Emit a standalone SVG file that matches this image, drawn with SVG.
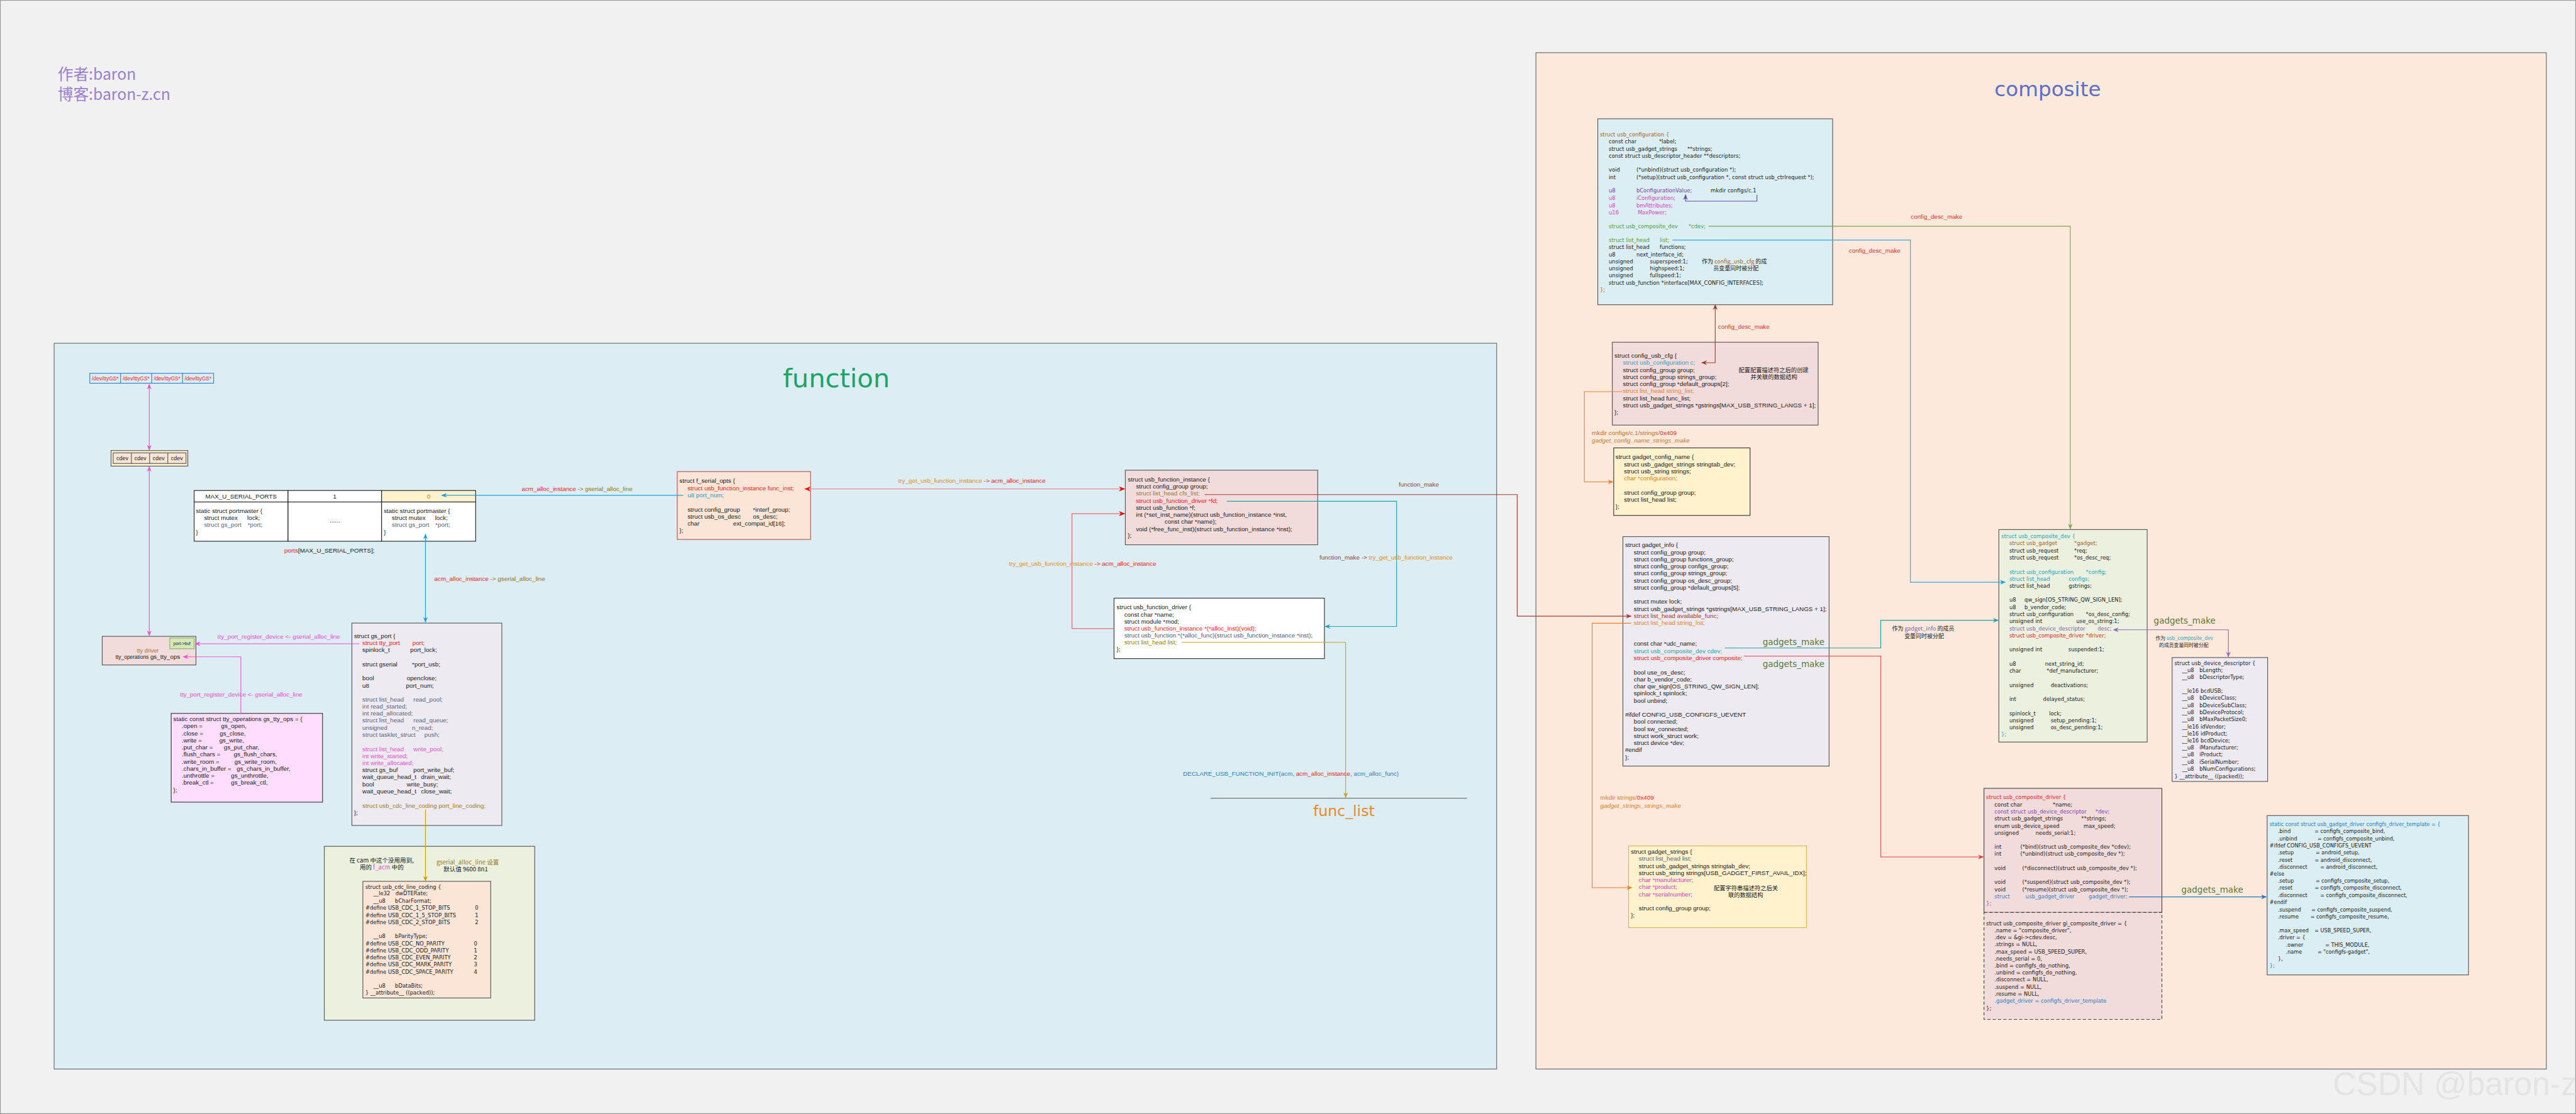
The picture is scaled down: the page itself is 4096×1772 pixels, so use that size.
<svg xmlns="http://www.w3.org/2000/svg" width="4096" height="1772" viewBox="0 0 4096 1772">
<defs>
<style>
.n{font-family:"Liberation Sans",Arial,sans-serif;font-size:17.5px;fill:#1a1a1a}
.w{font-family:"DejaVu Sans",sans-serif;font-size:15px;fill:#1a1a1a}
.c{font-family:"Noto Sans CJK SC","Noto Sans",sans-serif;fill:#1a1a1a}
.red{fill:#ff2020}.pk{fill:#f24fd4}.or{fill:#ea8a26}.ol{fill:#8f7420}.bl{fill:#1c98d8}.sl{fill:#5a6585}
.br{fill:#a5622c}.gr{fill:#4fa032}.pu{fill:#7040b0}.mg{fill:#e23fc4}.cy{fill:#22a4c6}.db{fill:#2a7dd0}
.dr{fill:#a33a2f}.vi{fill:#8464b8}.gm{fill:#56773a}.tl{fill:#1fa3b0}.fb{fill:#8b4a3a}
.box{stroke:#555;stroke-width:2}
.ln{fill:none;stroke-width:2}
</style>
<marker id="aPk" viewBox="0 0 10 10" refX="9" refY="5" markerWidth="16" markerHeight="16" markerUnits="userSpaceOnUse" orient="auto-start-reverse"><path d="M0,1L10,5L0,9L3,5z" fill="#f24fd4"/></marker>
<marker id="aBl" viewBox="0 0 10 10" refX="9" refY="5" markerWidth="16" markerHeight="16" markerUnits="userSpaceOnUse" orient="auto-start-reverse"><path d="M0,1L10,5L0,9L3,5z" fill="#1ba1e2"/></marker>
<marker id="aRd" viewBox="0 0 10 10" refX="9" refY="5" markerWidth="18" markerHeight="18" markerUnits="userSpaceOnUse" orient="auto-start-reverse"><path d="M0,1L10,5L0,9L3,5z" fill="#ff0000"/></marker>
<marker id="aTl" viewBox="0 0 10 10" refX="9" refY="5" markerWidth="16" markerHeight="16" markerUnits="userSpaceOnUse" orient="auto-start-reverse"><path d="M0,1L10,5L0,9L3,5z" fill="#1fa3b0"/></marker>
<marker id="aGd" viewBox="0 0 10 10" refX="9" refY="5" markerWidth="16" markerHeight="16" markerUnits="userSpaceOnUse" orient="auto-start-reverse"><path d="M0,1L10,5L0,9L3,5z" fill="#c9a000"/></marker>
<marker id="aDr" viewBox="0 0 10 10" refX="9" refY="5" markerWidth="16" markerHeight="16" markerUnits="userSpaceOnUse" orient="auto-start-reverse"><path d="M0,1L10,5L0,9L3,5z" fill="#a33a2f"/></marker>
<marker id="aOr" viewBox="0 0 10 10" refX="9" refY="5" markerWidth="16" markerHeight="16" markerUnits="userSpaceOnUse" orient="auto-start-reverse"><path d="M0,1L10,5L0,9L3,5z" fill="#f07d2a"/></marker>
<marker id="aGr" viewBox="0 0 10 10" refX="9" refY="5" markerWidth="16" markerHeight="16" markerUnits="userSpaceOnUse" orient="auto-start-reverse"><path d="M0,1L10,5L0,9L3,5z" fill="#7da453"/></marker>
<marker id="aPu" viewBox="0 0 10 10" refX="9" refY="5" markerWidth="16" markerHeight="16" markerUnits="userSpaceOnUse" orient="auto-start-reverse"><path d="M0,1L10,5L0,9L3,5z" fill="#6b45a8"/></marker>
<marker id="aVi" viewBox="0 0 10 10" refX="9" refY="5" markerWidth="16" markerHeight="16" markerUnits="userSpaceOnUse" orient="auto-start-reverse"><path d="M0,1L10,5L0,9L3,5z" fill="#8a6bbe"/></marker>
<marker id="aDb" viewBox="0 0 10 10" refX="9" refY="5" markerWidth="16" markerHeight="16" markerUnits="userSpaceOnUse" orient="auto-start-reverse"><path d="M0,1L10,5L0,9L3,5z" fill="#2577c8"/></marker>
<marker id="aRl" viewBox="0 0 10 10" refX="9" refY="5" markerWidth="16" markerHeight="16" markerUnits="userSpaceOnUse" orient="auto-start-reverse"><path d="M0,1L10,5L0,9L3,5z" fill="#f03a3a"/></marker>
</defs>
<g transform="scale(0.56233)">
<rect x="0" y="0" width="7284" height="3151" fill="#f1f1f1" stroke="#9a9a9a" stroke-width="4"/>
<g id="author">
<text x="163" y="226" class="c" style="font-size:44px;fill:#9a7fd1">作者:baron</text>
<text x="163" y="282" class="c" style="font-size:44px;fill:#9a7fd1">博客:baron-z.cn</text>
</g>
<g id="frame-function">
<rect x="153" y="971" width="4079" height="2053" fill="#dcedf4" stroke="#666" stroke-width="2"/>
<text x="2365" y="1096" text-anchor="middle" style="font-family:'DejaVu Sans',sans-serif;font-size:74px;fill:#21a366">function</text>
</g>
<g id="frame-composite">
<rect x="4343" y="149" width="2857" height="2875" fill="#fde9db" stroke="#666" stroke-width="2"/>
<text x="5790" y="272" text-anchor="middle" style="font-family:'DejaVu Sans',sans-serif;font-size:58px;fill:#5c6fc8">composite</text>
</g>

<g id="ttys">
<rect x="254" y="1056" width="350" height="28" fill="none" stroke="#2d7fd0" stroke-width="2"/>
<path d="M341,1056V1084M429,1056V1084M516,1056V1084" stroke="#2d7fd0" stroke-width="2"/>
<g class="n red" style="font-size:15px" text-anchor="middle">
<text x="297.5" y="1076">/dev/ttyGS*</text><text x="385" y="1076">/dev/ttyGS*</text><text x="472.5" y="1076">/dev/ttyGS*</text><text x="560" y="1076">/dev/ttyGS*</text>
</g>
</g>
<g id="cdevs">
<rect x="314" y="1274.5" width="217" height="44" fill="#fff2cc" class="box"/>
<rect x="320" y="1281" width="206" height="30" fill="#fbe5d6" class="box"/>
<path d="M371.5,1281V1311M423,1281V1311M474.5,1281V1311" stroke="#555" stroke-width="2"/>
<g class="n" style="font-size:16px" text-anchor="middle">
<text x="345.7" y="1302">cdev</text><text x="397.2" y="1302">cdev</text><text x="448.7" y="1302">cdev</text><text x="500.2" y="1302">cdev</text>
</g>
</g>
<g id="ports">
<rect x="549" y="1387.5" width="265.5" height="32.5" fill="#fff" stroke="#222" stroke-width="2"/>
<rect x="814.5" y="1387.5" width="264.5" height="32.5" fill="#fff" stroke="#222" stroke-width="2"/>
<rect x="1079" y="1387.5" width="266" height="32.5" fill="#fff2cc" stroke="#222" stroke-width="2"/>
<rect x="549" y="1420" width="265.5" height="111" fill="#fff" stroke="#222" stroke-width="2"/>
<rect x="814.5" y="1420" width="264.5" height="111" fill="#fff" stroke="#222" stroke-width="2"/>
<rect x="1079" y="1420" width="266" height="111" fill="#fff" stroke="#222" stroke-width="2"/>
<text x="681.7" y="1410" text-anchor="middle" class="n">MAX_U_SERIAL_PORTS</text>
<text x="946.7" y="1410" text-anchor="middle" class="n">1</text>
<text x="1212" y="1410" text-anchor="middle" class="n" style="fill:#b8860b">0</text>
<text x="554" y="1451" class="n">static struct portmaster {</text>
<text x="577" y="1471" class="n">struct mutex</text><text x="699" y="1471" class="n">lock;</text>
<text x="577" y="1491" class="n sl">struct gs_port</text><text x="700" y="1491" class="n sl">*port;</text>
<text x="554" y="1511" class="n">}</text>
<text x="946.7" y="1478" text-anchor="middle" class="n">......</text>
<text x="1085" y="1451" class="n">static struct portmaster {</text>
<text x="1108" y="1471" class="n">struct mutex</text><text x="1230" y="1471" class="n">lock;</text>
<text x="1108" y="1491" class="n sl">struct gs_port</text><text x="1231" y="1491" class="n sl">*port;</text>
<text x="1085" y="1511" class="n">}</text>
<text x="804" y="1564" class="n"><tspan class="red">ports</tspan>[MAX_U_SERIAL_PORTS];</text>
</g>
<g id="tty_driver">
<rect x="289" y="1800" width="265" height="81" fill="#f2dcdb" class="box"/>
<rect x="480" y="1804.6" width="69" height="30.4" fill="#d5e8b4" stroke="#82b366" stroke-width="2"/>
<text x="514.5" y="1824" text-anchor="middle" class="n" style="font-size:12px">port-&gt;buf</text>
<text x="418" y="1846" text-anchor="middle" class="n" style="font-size:16px;fill:#b07030">tty driver</text>
<text x="418" y="1864" text-anchor="middle" class="n" style="font-size:15px">tty_operations <tspan style="font-size:17.5px">gs_tty_ops</tspan></text>
</g>
<g id="gs_tty_ops">
<rect x="484" y="2018" width="428" height="251" fill="#ffddff" stroke="#333" stroke-width="2"/>
<text x="490" y="2040" class="n">static const struct tty_operations gs_tty_ops = {</text>
<text x="514" y="2060" class="n">.open =</text><text x="625" y="2060" class="n">gs_open,</text>
<text x="514" y="2080" class="n">.close =</text><text x="621" y="2080" class="n">gs_close,</text>
<text x="514" y="2100" class="n">.write =</text><text x="620" y="2100" class="n">gs_write,</text>
<text x="514" y="2120" class="n">.put_char =</text><text x="633" y="2120" class="n">gs_put_char,</text>
<text x="514" y="2140" class="n">.flush_chars =</text><text x="661" y="2140" class="n">gs_flush_chars,</text>
<text x="514" y="2160" class="n">.write_room =</text><text x="663" y="2160" class="n">gs_write_room,</text>
<text x="514" y="2180" class="n">.chars_in_buffer =</text><text x="669" y="2180" class="n">gs_chars_in_buffer,</text>
<text x="514" y="2200" class="n">.unthrottle =</text><text x="653" y="2200" class="n">gs_unthrottle,</text>
<text x="514" y="2220" class="n">.break_ctl =</text><text x="653" y="2220" class="n">gs_break_ctl,</text>
<text x="490" y="2240" class="n">};</text>
</g>
<g id="gs_port">
<rect x="995" y="1762.5" width="424" height="572.5" fill="#eeeaf2" class="box"/>
<text x="1001" y="1805" class="n">struct gs_port {</text>
<text x="1024.5" y="1825" class="n red">struct tty_port</text><text x="1166" y="1825" class="n red">port;</text>
<text x="1024.5" y="1845" class="n">spinlock_t</text><text x="1160" y="1845" class="n">port_lock;</text>
<text x="1024.5" y="1885" class="n">struct gserial</text><text x="1165" y="1885" class="n">*port_usb;</text>
<text x="1024.5" y="1925" class="n">bool</text><text x="1150" y="1925" class="n">openclose;</text>
<text x="1024.5" y="1945" class="n">u8</text><text x="1148" y="1945" class="n">port_num;</text>
<text x="1024.5" y="1984.5" class="n sl">struct list_head</text><text x="1169" y="1984.5" class="n sl">read_pool;</text>
<text x="1024.5" y="2004.5" class="n sl">int read_started;</text>
<text x="1024.5" y="2024" class="n sl">int read_allocated;</text>
<text x="1024.5" y="2044" class="n sl">struct list_head</text><text x="1169" y="2044" class="n sl">read_queue;</text>
<text x="1024.5" y="2065" class="n sl">unsigned</text><text x="1165" y="2065" class="n sl">n_read;</text>
<text x="1024.5" y="2085" class="n sl">struct tasklet_struct</text><text x="1200" y="2085" class="n sl">push;</text>
<text x="1024.5" y="2125" class="n pk">struct list_head</text><text x="1169" y="2125" class="n pk">write_pool;</text>
<text x="1024.5" y="2144.5" class="n pk">int write_started;</text>
<text x="1024.5" y="2164.5" class="n pk">int write_allocated;</text>
<text x="1024.5" y="2184.5" class="n">struct gs_buf</text><text x="1169" y="2184.5" class="n">port_write_buf;</text>
<text x="1024.5" y="2204" class="n">wait_queue_head_t</text><text x="1190.6" y="2204" class="n">drain_wait;</text>
<text x="1024.5" y="2224" class="n">bool</text><text x="1150" y="2224" class="n">write_busy;</text>
<text x="1024.5" y="2245" class="n">wait_queue_head_t</text><text x="1190.6" y="2245" class="n">close_wait;</text>
<text x="1024.5" y="2284.6" class="n" style="fill:#a07a2a">struct usb_cdc_line_coding port_line_coding;</text>
<text x="1001" y="2305" class="n">};</text>
</g>
<g id="line_coding_group">
<rect x="917" y="2394" width="595" height="492" fill="#ebf1de" class="box"/>
<text x="988" y="2440" class="c" style="font-size:17px">在 cam 中这个没用用到,</text>
<text x="1017" y="2460" class="c" style="font-size:17px">用的 <tspan class="pk">f_acm</tspan> 中的</text>
<text x="1234" y="2445" class="c" style="font-size:17px;fill:#9c7a1f">gserial_alloc_line 设置</text>
<text x="1254" y="2464" class="c" style="font-size:17px">默认值 9600 8n1</text>
</g>
<g id="usb_cdc_line_coding">
<rect x="1026" y="2493" width="361.5" height="330" fill="#fbe5d6" class="box"/>
<text x="1033" y="2514" class="w">struct usb_cdc_line_coding {</text>
<text x="1056" y="2533" class="w">__le32</text><text x="1118" y="2533" class="w">dwDTERate;</text>
<text x="1056" y="2554" class="w">__u8</text><text x="1117" y="2554" class="w">bCharFormat;</text>
<text x="1033" y="2574" class="w">#define USB_CDC_1_STOP_BITS</text><text x="1343" y="2574" class="w">0</text>
<text x="1033" y="2594" class="w">#define USB_CDC_1_5_STOP_BITS</text><text x="1343" y="2594" class="w">1</text>
<text x="1033" y="2614" class="w">#define USB_CDC_2_STOP_BITS</text><text x="1343" y="2614" class="w">2</text>
<text x="1056" y="2654" class="w">__u8</text><text x="1117" y="2654" class="w">bParityType;</text>
<text x="1033" y="2674" class="w">#define USB_CDC_NO_PARITY</text><text x="1340" y="2674" class="w">0</text>
<text x="1033" y="2694" class="w">#define USB_CDC_ODD_PARITY</text><text x="1340" y="2694" class="w">1</text>
<text x="1033" y="2714" class="w">#define USB_CDC_EVEN_PARITY</text><text x="1340" y="2714" class="w">2</text>
<text x="1033" y="2734" class="w">#define USB_CDC_MARK_PARITY</text><text x="1340" y="2734" class="w">3</text>
<text x="1033" y="2754" class="w">#define USB_CDC_SPACE_PARITY</text><text x="1340" y="2754" class="w">4</text>
<text x="1056" y="2794" class="w">__u8</text><text x="1117" y="2794" class="w">bDataBits;</text>
<text x="1033" y="2814" class="w">} __attribute__ ((packed));</text>
</g>
<g id="f_serial_opts">
<rect x="1915" y="1334" width="377" height="192" fill="#fbe5d6" stroke="#b85450" stroke-width="2"/>
<text x="1921" y="1366" class="n">struct f_serial_opts {</text>
<text x="1944" y="1387" class="n red">struct usb_function_instance func_inst;</text>
<text x="1944" y="1407" class="n bl">u8 port_num;</text>
<text x="1944" y="1447" class="n">struct config_group</text><text x="2129" y="1447" class="n">*interf_group;</text>
<text x="1944" y="1467" class="n">struct usb_os_desc</text><text x="2129" y="1467" class="n">os_desc;</text>
<text x="1944" y="1486" class="n">char</text><text x="2073" y="1486" class="n">ext_compat_id[16];</text>
<text x="1921" y="1506" class="n">};</text>
</g>
<g id="usb_function_instance">
<rect x="3182" y="1330" width="544" height="211" fill="#f2dcdb" class="box"/>
<text x="3189" y="1362" class="n">struct usb_function_instance {</text>
<text x="3212" y="1382" class="n">struct config_group group;</text>
<text x="3212" y="1402" class="n" style="fill:#9b7a3a">struct list_head cfs_list;</text>
<text x="3212" y="1422" class="n red">struct usb_function_driver *fd;</text>
<text x="3212" y="1442" class="n">struct usb_function *f;</text>
<text x="3212" y="1462" class="n">int (*set_inst_name)(struct usb_function_instance *inst,</text>
<text x="3293" y="1482" class="n">const char *name);</text>
<text x="3212" y="1502" class="n">void (*free_func_inst)(struct usb_function_instance *inst);</text>
<text x="3189" y="1521" class="n">};</text>
</g>
<g id="usb_function_driver">
<rect x="3150" y="1692" width="595" height="171" fill="#ffffff" stroke="#333" stroke-width="2"/>
<text x="3157" y="1724" class="n">struct usb_function_driver {</text>
<text x="3179" y="1744" class="n">const char *name;</text>
<text x="3179" y="1763.5" class="n">struct module *mod;</text>
<text x="3179" y="1784" class="n red">struct usb_function_instance *(*alloc_inst)(void);</text>
<text x="3179" y="1803" class="n" style="fill:#4d5a8a">struct usb_function *(*alloc_func)(struct usb_function_instance *inst);</text>
<text x="3179" y="1823" class="n" style="fill:#9a8000">struct list_head list;</text>
<text x="3157" y="1843" class="n">};</text>
</g>
<g id="func_list">
<path d="M3423,2258H4148" stroke="#555" stroke-width="2"/>
<text x="3800" y="2308" text-anchor="middle" style="font-family:'DejaVu Sans',sans-serif;font-size:42px;fill:#ea8a26">func_list</text>
</g>

<g id="usb_configuration">
<rect x="4518" y="336" width="664" height="526" fill="#dbeef4" class="box"/>
<text x="4524" y="386" class="w br">struct usb_configuration {</text>
<text x="4549" y="406" class="w">const char</text><text x="4691" y="406" class="w">*label;</text>
<text x="4549" y="426" class="w">struct usb_gadget_strings</text><text x="4771" y="426" class="w">**strings;</text>
<text x="4549" y="446" class="w">const struct usb_descriptor_header **descriptors;</text>
<text x="4549" y="486" class="w">void</text><text x="4627" y="486" class="w">(*unbind)(struct usb_configuration *);</text>
<text x="4549" y="506" class="w">int</text><text x="4627" y="506" class="w">(*setup)(struct usb_configuration *, const struct usb_ctrlrequest *);</text>
<text x="4549" y="545" class="w pu">u8</text><text x="4627" y="545" class="w pu">bConfigurationValue;</text><text x="4837" y="545" class="w">mkdir configs/c.1</text>
<text x="4549" y="565" class="w mg">u8</text><text x="4627" y="565" class="w mg">iConfiguration;</text>
<text x="4549" y="586" class="w mg">u8</text><text x="4627" y="586" class="w mg">bmAttributes;</text>
<text x="4549" y="606" class="w mg">u16</text><text x="4631" y="606" class="w mg">MaxPower;</text>
<text x="4549" y="645" class="w gr">struct usb_composite_dev</text><text x="4774.5" y="645" class="w gr">*cdev;</text>
<text x="4549" y="685" class="w gr">struct list_head</text><text x="4693" y="685" class="w gr">list;</text>
<text x="4549" y="705" class="w">struct list_head</text><text x="4693" y="705" class="w">functions;</text>
<text x="4549" y="725" class="w">u8</text><text x="4627" y="725" class="w">next_interface_id;</text>
<text x="4549" y="745" class="w">unsigned</text><text x="4665.5" y="745" class="w">superspeed:1;</text>
<text x="4812" y="745" class="c" style="font-size:16px">作为 <tspan class="br">config_usb_cfg</tspan> 的成</text>
<text x="4549" y="765" class="w">unsigned</text><text x="4665.5" y="765" class="w">highspeed:1;</text>
<text x="4844.6" y="765" class="c" style="font-size:16px">员变量同时被分配</text>
<text x="4549" y="785" class="w">unsigned</text><text x="4665.5" y="785" class="w">fullspeed:1;</text>
<text x="4549" y="805" class="w">struct usb_function *interface[MAX_CONFIG_INTERFACES];</text>
<text x="4524" y="825" class="w br">};</text>
</g>
<g id="config_usb_cfg">
<rect x="4559" y="968" width="582" height="234.5" fill="#f2dcdb" class="box"/>
<text x="4565" y="1012" class="n">struct config_usb_cfg {</text>
<text x="4589" y="1032" class="n" style="fill:#3a9abf">struct usb_configuration c;</text>
<text x="4589" y="1052" class="n">struct config_group group;</text>
<text x="4589" y="1072" class="n">struct config_group strings_group;</text>
<text x="4589" y="1092" class="n">struct config_group *default_groups[2];</text>
<text x="4589" y="1112" class="n" style="fill:#f08030">struct list_head string_list;</text>
<text x="4589" y="1132" class="n">struct list_head func_list;</text>
<text x="4589" y="1152" class="n">struct usb_gadget_strings *gstrings[MAX_USB_STRING_LANGS + 1];</text>
<text x="4565" y="1172" class="n">};</text>
<text x="4916" y="1052" class="c" style="font-size:16.5px">配置配置描述符之后的创建</text>
<text x="4950" y="1072" class="c" style="font-size:16.5px">并关联的数据结构</text>
</g>
<g id="gadget_config_name">
<rect x="4563" y="1267" width="385.5" height="191" fill="#fff2cc" stroke="#333" stroke-width="2"/>
<text x="4568" y="1299" class="n">struct gadget_config_name {</text>
<text x="4592" y="1319" class="n">struct usb_gadget_strings stringtab_dev;</text>
<text x="4592" y="1339" class="n">struct usb_string strings;</text>
<text x="4592" y="1359" class="n" style="fill:#e67e22">char *configuration;</text>
<text x="4592" y="1399" class="n">struct config_group group;</text>
<text x="4592" y="1419" class="n">struct list_head list;</text>
<text x="4568" y="1439" class="n">};</text>
</g>
<g id="gadget_info">
<rect x="4589" y="1518" width="583" height="649" fill="#eeeaf2" class="box"/>
<text x="4595" y="1547.5" class="n">struct gadget_info {</text>
<text x="4619.6" y="1567.6" class="n">struct config_group group;</text>
<text x="4619.6" y="1587.7" class="n">struct config_group functions_group;</text>
<text x="4619.6" y="1608" class="n">struct config_group configs_group;</text>
<text x="4619.6" y="1628" class="n">struct config_group strings_group;</text>
<text x="4619.6" y="1648" class="n">struct config_group os_desc_group;</text>
<text x="4619.6" y="1667.6" class="n">struct config_group *default_groups[5];</text>
<text x="4619.6" y="1708" class="n">struct mutex lock;</text>
<text x="4619.6" y="1728" class="n">struct usb_gadget_strings *gstrings[MAX_USB_STRING_LANGS + 1];</text>
<text x="4619.6" y="1747.5" class="n dr">struct list_head available_func;</text>
<text x="4619.6" y="1767.6" class="n" style="fill:#f08030">struct list_head string_list;</text>
<text x="4619.6" y="1827" class="n">const char *udc_name;</text>
<text x="4619.6" y="1847.5" class="n tl">struct usb_composite_dev cdev;</text>
<text x="4619.6" y="1867.6" class="n red">struct usb_composite_driver composite;</text>
<text x="4619.6" y="1908" class="n">bool use_os_desc;</text>
<text x="4619.6" y="1928" class="n">char b_vendor_code;</text>
<text x="4619.6" y="1947.5" class="n">char qw_sign[OS_STRING_QW_SIGN_LEN];</text>
<text x="4619.6" y="1967.6" class="n">spinlock_t spinlock;</text>
<text x="4619.6" y="1987.7" class="n">bool unbind;</text>
<text x="4595" y="2027" class="n">#ifdef CONFIG_USB_CONFIGFS_UEVENT</text>
<text x="4619.6" y="2047.5" class="n">bool connected;</text>
<text x="4619.6" y="2067.6" class="n">bool sw_connected;</text>
<text x="4619.6" y="2087.7" class="n">struct work_struct work;</text>
<text x="4619.6" y="2107.8" class="n">struct device *dev;</text>
<text x="4595" y="2127" class="n">#endif</text>
<text x="4595" y="2147.5" class="n">};</text>
</g>
<g id="gadget_strings">
<rect x="4605" y="2393" width="503" height="231" fill="#fff2cc" stroke="#d6b656" stroke-width="2"/>
<text x="4611.6" y="2415" class="n">struct gadget_strings {</text>
<text x="4634" y="2435" class="n sl">struct list_head list;</text>
<text x="4634" y="2455" class="n">struct usb_gadget_strings stringtab_dev;</text>
<text x="4634" y="2475" class="n">struct usb_string strings[USB_GADGET_FIRST_AVAIL_IDX];</text>
<text x="4634" y="2495" class="n mg">char *manufacturer;</text>
<text x="4634" y="2515" class="n mg">char *product;</text>
<text x="4634" y="2535" class="n mg">char *serialnumber;</text>
<text x="4634" y="2575" class="n">struct config_group group;</text>
<text x="4611.6" y="2595" class="n">};</text>
<text x="4846" y="2518" class="c" style="font-size:16.5px">配置字符串描述符之后关</text>
<text x="4886.6" y="2538" class="c" style="font-size:16.5px">联的数据结构</text>
</g>
<g id="usb_composite_dev">
<rect x="5652" y="1498" width="419.4" height="601" fill="#ebf1de" class="box"/>
<text x="5658.7" y="1522.5" class="w cy">struct usb_composite_dev {</text>
<text x="5681.6" y="1542.5" class="w br">struct usb_gadget</text><text x="5864.8" y="1542.5" class="w br">*gadget;</text>
<text x="5681.6" y="1563" class="w">struct usb_request</text><text x="5864.8" y="1563" class="w">*req;</text>
<text x="5681.6" y="1583" class="w">struct usb_request</text><text x="5864.8" y="1583" class="w">*os_desc_req;</text>
<text x="5681.6" y="1623" class="w cy">struct usb_configuration</text><text x="5898" y="1623" class="w cy">*config;</text>
<text x="5681.6" y="1643" class="w cy">struct list_head</text><text x="5849.5" y="1643" class="w cy">configs;</text>
<text x="5681.6" y="1663.5" class="w">struct list_head</text><text x="5849.5" y="1663.5" class="w">gstrings;</text>
<text x="5681.6" y="1702.5" class="w">u8</text><text x="5724.5" y="1702.5" class="w">qw_sign[OS_STRING_QW_SIGN_LEN];</text>
<text x="5681.6" y="1723" class="w">u8</text><text x="5724.5" y="1723" class="w">b_vendor_code;</text>
<text x="5681.6" y="1743" class="w">struct usb_configuration</text><text x="5898" y="1743" class="w">*os_desc_config;</text>
<text x="5681.6" y="1763" class="w">unsigned int</text><text x="5871" y="1763" class="w">use_os_string:1;</text>
<text x="5681.6" y="1783" class="w vi">struct usb_device_descriptor</text><text x="5931" y="1783" class="w vi">desc;</text>
<text x="5681.6" y="1803" class="w red">struct usb_composite_driver *driver;</text>
<text x="5681.6" y="1843" class="w">unsigned int</text><text x="5848.5" y="1843" class="w">suspended:1;</text>
<text x="5681.6" y="1883" class="w">u8</text><text x="5782.6" y="1883" class="w">next_string_id;</text>
<text x="5681.6" y="1903" class="w">char</text><text x="5787" y="1903" class="w">*def_manufacturer;</text>
<text x="5681.6" y="1943" class="w">unsigned</text><text x="5798.5" y="1943" class="w">deactivations;</text>
<text x="5681.6" y="1983" class="w">int</text><text x="5777" y="1983" class="w">delayed_status;</text>
<text x="5681.6" y="2023" class="w">spinlock_t</text><text x="5794" y="2023" class="w">lock;</text>
<text x="5681.6" y="2043" class="w">unsigned</text><text x="5798.5" y="2043" class="w">setup_pending:1;</text>
<text x="5681.6" y="2063" class="w">unsigned</text><text x="5798.5" y="2063" class="w">os_desc_pending:1;</text>
<text x="5658.7" y="2083" class="w cy">};</text>
</g>
<g id="usb_composite_driver">
<rect x="5610" y="2230" width="503" height="351" fill="#f2dcdb" stroke="#444" stroke-width="2"/>
<text x="5616" y="2261" class="w red">struct usb_composite_driver {</text>
<text x="5639.7" y="2281.5" class="w">const char</text><text x="5804.5" y="2281.5" class="w">*name;</text>
<text x="5639.7" y="2301.5" class="w" style="fill:#8040c0">const struct usb_device_descriptor</text><text x="5925" y="2301.5" class="w" style="fill:#8040c0">*dev;</text>
<text x="5639.7" y="2321.5" class="w">struct usb_gadget_strings</text><text x="5885" y="2321.5" class="w">**strings;</text>
<text x="5639.7" y="2341.5" class="w">enum usb_device_speed</text><text x="5891.5" y="2341.5" class="w">max_speed;</text>
<text x="5639.7" y="2361.5" class="w">unsigned</text><text x="5756" y="2361.5" class="w">needs_serial:1;</text>
<text x="5639.7" y="2401" class="w">int</text><text x="5713" y="2401" class="w">(*bind)(struct usb_composite_dev *cdev);</text>
<text x="5639.7" y="2421" class="w">int</text><text x="5713" y="2421" class="w">(*unbind)(struct usb_composite_dev *);</text>
<text x="5639.7" y="2461" class="w">void</text><text x="5718" y="2461" class="w">(*disconnect)(struct usb_composite_dev *);</text>
<text x="5639.7" y="2501" class="w">void</text><text x="5718" y="2501" class="w">(*suspend)(struct usb_composite_dev *);</text>
<text x="5639.7" y="2521" class="w">void</text><text x="5718" y="2521" class="w">(*resume)(struct usb_composite_dev *);</text>
<text x="5639.7" y="2541" class="w db">struct</text><text x="5727.7" y="2541" class="w db">usb_gadget_driver</text><text x="5906" y="2541" class="w db">gadget_driver;</text>
<text x="5616" y="2561" class="w" style="fill:#8060b0">};</text>
</g>
<g id="gi_composite_driver">
<rect x="5610" y="2581" width="503" height="302.5" fill="#f2dcdb" stroke="#444" stroke-width="2" stroke-dasharray="9 6"/>
<text x="5616" y="2618" class="w">struct usb_composite_driver gi_composite_driver = {</text>
<text x="5639.7" y="2638" class="w">.name = "composite_driver",</text>
<text x="5639.7" y="2657" class="w">.dev = &amp;gi-&gt;cdev.desc,</text>
<text x="5639.7" y="2677" class="w">.strings = NULL,</text>
<text x="5639.7" y="2697" class="w">.max_speed = USB_SPEED_SUPER,</text>
<text x="5639.7" y="2717" class="w">.needs_serial = 0,</text>
<text x="5639.7" y="2736.5" class="w">.bind = configfs_do_nothing,</text>
<text x="5639.7" y="2756.5" class="w">.unbind = configfs_do_nothing,</text>
<text x="5639.7" y="2776.5" class="w">.disconnect = NULL,</text>
<text x="5639.7" y="2796.5" class="w">.suspend = NULL,</text>
<text x="5639.7" y="2816.5" class="w">.resume = NULL,</text>
<text x="5639.7" y="2836.5" class="w db">.gadget_driver = configfs_driver_template</text>
<text x="5616" y="2857.5" class="w">};</text>
</g>
<g id="usb_device_descriptor">
<rect x="6142" y="1860" width="270" height="350.5" fill="#eeeaf2" class="box"/>
<text x="6148.5" y="1881" class="w">struct usb_device_descriptor {</text>
<text x="6170" y="1900.5" class="w">__u8</text><text x="6219" y="1900.5" class="w">bLength;</text>
<text x="6170" y="1921" class="w">__u8</text><text x="6219" y="1921" class="w">bDescriptorType;</text>
<text x="6170" y="1960" class="w">__le16 bcdUSB;</text>
<text x="6170" y="1980" class="w">__u8</text><text x="6219" y="1980" class="w">bDeviceClass;</text>
<text x="6170" y="2000.6" class="w">__u8</text><text x="6219" y="2000.6" class="w">bDeviceSubClass;</text>
<text x="6170" y="2020" class="w">__u8</text><text x="6219" y="2020" class="w">bDeviceProtocol;</text>
<text x="6170" y="2040" class="w">__u8</text><text x="6219" y="2040" class="w">bMaxPacketSize0;</text>
<text x="6170" y="2060.5" class="w">__le16 idVendor;</text>
<text x="6170" y="2080" class="w">__le16 idProduct;</text>
<text x="6170" y="2100" class="w">__le16 bcdDevice;</text>
<text x="6170" y="2120.5" class="w">__u8</text><text x="6219" y="2120.5" class="w">iManufacturer;</text>
<text x="6170" y="2140" class="w">__u8</text><text x="6219" y="2140" class="w">iProduct;</text>
<text x="6170" y="2160.6" class="w">__u8</text><text x="6219" y="2160.6" class="w">iSerialNumber;</text>
<text x="6170" y="2180.4" class="w">__u8</text><text x="6219" y="2180.4" class="w">bNumConfigurations;</text>
<text x="6148.5" y="2201" class="w">} __attribute__ ((packed));</text>
</g>
<g id="configfs_driver_template" style="font-size:14.5px">
<rect x="6410.6" y="2307" width="569.4" height="450.7" fill="#dbeef4" class="box"/>
<text x="6417.6" y="2337" class="w db" style="font-size:14.5px">static const struct usb_gadget_driver configfs_driver_template = {</text>
<g class="w" style="font-size:14.5px">
<text x="6441" y="2357">.bind</text><text x="6544.5" y="2357">= configfs_composite_bind,</text>
<text x="6441" y="2377.5">.unbind</text><text x="6553" y="2377.5">= configfs_composite_unbind,</text>
<text x="6417.6" y="2397">#ifdef CONFIG_USB_CONFIGFS_UEVENT</text>
<text x="6441" y="2417.6">.setup</text><text x="6547.7" y="2417.6">= android_setup,</text>
<text x="6441" y="2437.4">.reset</text><text x="6545" y="2437.4">= android_disconnect,</text>
<text x="6441" y="2457.8">.disconnect</text><text x="6560.5" y="2457.8">= android_disconnect,</text>
<text x="6417.6" y="2477">#else</text>
<text x="6441" y="2497.4">.setup</text><text x="6547.7" y="2497.4">= configfs_composite_setup,</text>
<text x="6441" y="2517">.reset</text><text x="6545" y="2517">= configfs_composite_disconnect,</text>
<text x="6441" y="2537.6">.disconnect</text><text x="6560.5" y="2537.6">= configfs_composite_disconnect,</text>
<text x="6417.6" y="2557">#endif</text>
<text x="6441" y="2577.7">.suspend</text><text x="6535.6" y="2577.7">= configfs_composite_suspend,</text>
<text x="6441" y="2597.5">.resume</text><text x="6533" y="2597.5">= configfs_composite_resume,</text>
<text x="6441" y="2637.6">.max_speed</text><text x="6544.5" y="2637.6">= USB_SPEED_SUPER,</text>
<text x="6441" y="2657.4">.driver = {</text>
<text x="6463.5" y="2678">.owner</text><text x="6575" y="2678">= THIS_MODULE,</text>
<text x="6463.5" y="2697.6">.name</text><text x="6553" y="2697.6">= "configfs-gadget",</text>
<text x="6441" y="2718">},</text>
</g>
<text x="6417.6" y="2737" class="w db" style="font-size:14.5px">};</text>
</g>

<g id="connectors">
<path class="ln" d="M422,1087V1273" stroke="#f24fd4" marker-start="url(#aPk)" marker-end="url(#aPk)"/>
<path class="ln" d="M422,1320V1798" stroke="#f24fd4" marker-start="url(#aPk)" marker-end="url(#aPk)"/>
<path class="ln" d="M1016,1821H552" stroke="#f24fd4" marker-end="url(#aPk)"/>
<path class="ln" d="M681,2018V1858H518" stroke="#f24fd4" marker-end="url(#aPk)"/>
<path class="ln" d="M1932,1401H1249" stroke="#1ba1e2" stroke-width="3" marker-end="url(#aBl)"/>
<path class="ln" d="M1203,1760V1511" stroke="#1ba1e2" stroke-width="1.5" marker-start="url(#aBl)" marker-end="url(#aBl)"/>
<path class="ln" d="M1203,2290V2492" stroke="#c9a000" marker-end="url(#aGd)"/>
<path class="ln" d="M2276,1383H3180" stroke="#f07676" stroke-width="4" marker-start="url(#aRd)" marker-end="url(#aRd)"/>
<path class="ln" d="M3150,1778H3031V1453H3180" stroke="#ee6a6a" marker-end="url(#aRd)"/>
<path class="ln" d="M3406,1399H4290V1743H4612" stroke="#a33a2f" marker-end="url(#aDr)"/>
<path class="ln" d="M3469,1418H3949V1772H3747" stroke="#1fa3b0" marker-end="url(#aTl)"/>
<path class="ln" d="M3342,1817H3805V2256" stroke="#d4a017" stroke-width="2.5" marker-end="url(#aGd)"/>
<path class="ln" d="M4812,1026H4850V862" stroke="#a33a2f" marker-start="url(#aDr)" marker-end="url(#aDr)"/>
<path class="ln" d="M4968,551V569H4766V551" stroke="#6b45a8" marker-end="url(#aPu)"/>
<path class="ln" d="M4831,640H5854V1496" stroke="#7da453" marker-end="url(#aGr)"/>
<path class="ln" d="M4729,679H5402V1647H5670" stroke="#2aaae0" marker-end="url(#aBl)"/>
<path class="ln" d="M4587,1108H4480V1363H4561" stroke="#f07d2a" marker-end="url(#aOr)"/>
<path class="ln" d="M4612,1763H4502V2511H4614" stroke="#f07d2a" marker-end="url(#aOr)"/>
<path class="ln" d="M4877,1833H5318V1754.5H5650" stroke="#1aa3a8" stroke-width="3" marker-end="url(#aTl)"/>
<path class="ln" d="M4932,1856H5318V2424H5608" stroke="#f05a5a" marker-end="url(#aRl)"/>
<path class="ln" d="M5976,1781.5H6301V1858" stroke="#8a6bbe" marker-start="url(#aVi)" marker-end="url(#aVi)"/>
<path class="ln" d="M6020,2537H6408" stroke="#2577c8" stroke-width="2.5" marker-end="url(#aDb)"/>
</g>

<g id="labels">
<text x="615" y="1807" class="n pk">tty_port_register_device &lt;- gserial_alloc_line</text>
<text x="509" y="1970" class="n pk">tty_port_register_device &lt;- gserial_alloc_line</text>
<text x="1475" y="1388" class="n"><tspan class="red">acm_alloc_instance</tspan><tspan class="ol"> -&gt; gserial_alloc_line</tspan></text>
<text x="1228" y="1644" class="n"><tspan class="red">acm_alloc_instance</tspan><tspan class="ol"> -&gt; gserial_alloc_line</tspan></text>
<text x="2540" y="1366" class="n"><tspan class="or">try_get_usb_function_instance</tspan><tspan class="red"> -&gt; acm_alloc_instance</tspan></text>
<text x="2853" y="1601" class="n"><tspan class="or">try_get_usb_function_instance</tspan><tspan class="red"> -&gt; acm_alloc_instance</tspan></text>
<text x="3955" y="1376" class="n fb">function_make</text>
<text x="3731" y="1583" class="n"><tspan class="fb">function_make -&gt; </tspan><tspan class="or">try_get_usb_function_instance</tspan></text>
<text x="3345" y="2194" class="n"><tspan class="db">DECLARE_USB_FUNCTION_INIT(acm, </tspan><tspan class="red">acm_alloc_instance</tspan><tspan class="db">, acm_alloc_func)</tspan></text>
<text x="5403" y="619" class="n" style="fill:#f03030">config_desc_make</text>
<text x="5228" y="715" class="n" style="fill:#f03030">config_desc_make</text>
<text x="4858" y="930" class="n" style="fill:#f03030">config_desc_make</text>
<text x="4501" y="1230" class="n" style="fill:#c8702a">mkdir configs/c.1/strings/<tspan class="red">0x409</tspan></text>
<text x="4501" y="1252" class="n" style="fill:#d07a2a;font-style:italic">gadget_config_name_strings_make</text>
<text x="4525" y="2262" class="n" style="fill:#e8802a">mkdir strings/<tspan class="red">0x409</tspan></text>
<text x="4525" y="2285" class="n" style="fill:#e8802a;font-style:italic">gadget_strings_strings_make</text>
<text x="4984" y="1824" class="gm" style="font-family:'DejaVu Sans',sans-serif;font-size:24px">gadgets_make</text>
<text x="4984" y="1887" class="gm" style="font-family:'DejaVu Sans',sans-serif;font-size:24px">gadgets_make</text>
<text x="6168" y="2525" class="gm" style="font-family:'DejaVu Sans',sans-serif;font-size:24px">gadgets_make</text>
<text x="6090" y="1764" class="gm" style="font-family:'DejaVu Sans',sans-serif;font-size:24px">gadgets_make</text>
<text x="5350" y="1784" class="c" style="font-size:16px">作为 <tspan class="vi">gadget_info</tspan> 的成员</text>
<text x="5385" y="1804.5" class="c" style="font-size:16px">变量同时被分配</text>
<text x="6095" y="1811" class="c" style="font-size:14px">作为 <tspan class="cy">usb_composite_dev</tspan></text>
<text x="6105" y="1830" class="c" style="font-size:14px">的成员变量同时被分配</text>
<text x="6596" y="3098" style="font-family:'Liberation Sans',Arial,sans-serif;font-size:92px;fill:#e4e4e4">CSDN @baron-z</text>
</g>
</g>
</svg>
